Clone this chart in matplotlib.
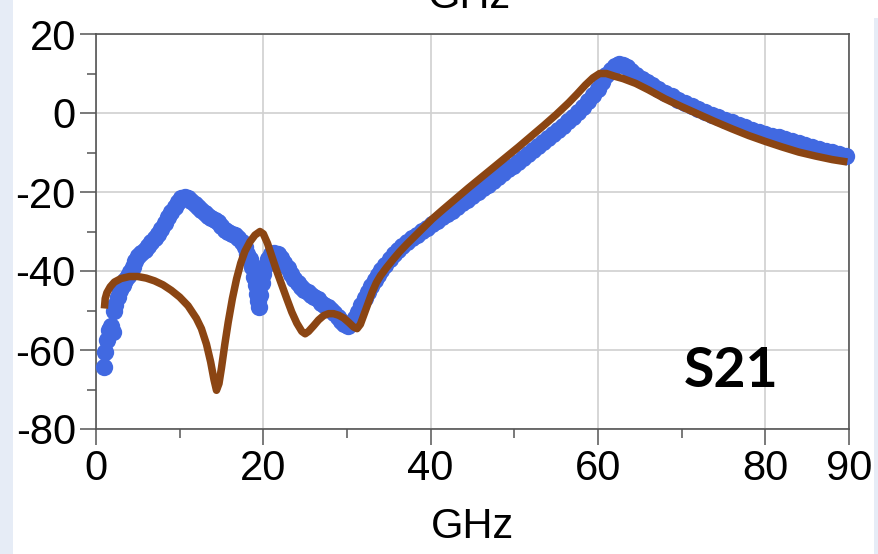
import matplotlib
matplotlib.use("Agg")
import matplotlib.pyplot as plt
from matplotlib.patches import Rectangle

plt.rcParams['font.family'] = ['Liberation Sans', 'DejaVu Sans']
plt.rcParams['axes.unicode_minus'] = False

# measured S21 (blue dots)
meas_ghz = [0.9, 1.1, 1.3, 1.6, 1.8, 2.05, 2.1, 2.3, 2.6, 2.9, 3.2, 3.5, 3.8, 4.1, 4.4, 4.7,
            5.0, 5.4, 5.8, 6.2, 6.6, 7.0, 7.4, 7.8, 8.2, 8.6, 9.0, 9.4, 9.8, 10.2, 10.6,
            11.0, 11.4, 11.8, 12.2, 12.6, 13.0, 13.4, 13.8, 14.2, 14.6, 15.0, 15.4, 15.8,
            16.2, 16.6, 17.0, 17.4, 17.8, 18.1, 18.4, 18.7, 18.9, 19.1, 19.3, 19.4, 19.45,
            19.6, 19.8, 20.0, 20.2, 20.5, 20.9, 21.3, 21.7, 22.1, 22.5, 22.9, 23.3, 23.7,
            24.1, 24.5, 24.9, 25.3, 25.7, 26.1, 26.5, 26.9, 27.3, 27.7, 28.1, 28.5, 28.9,
            29.3, 29.7, 30.1, 30.5, 30.9, 31.3, 31.7, 32.1, 32.5, 32.9, 33.3, 33.7, 34.1,
            34.6, 35.1, 35.6, 36.1, 36.6, 37.2, 37.8, 38.4, 39.0, 39.6, 40.2, 40.8, 41.4,
            42.0, 42.6, 43.2, 43.8, 44.4, 45.0, 45.6, 46.2, 46.8, 47.4, 48.0, 48.6, 49.2,
            49.8, 50.4, 51.0, 51.6, 52.2, 52.8, 53.4, 54.0, 54.6, 55.2, 55.8, 56.4, 57.0,
            57.6, 58.2, 58.8, 59.4, 60.0, 60.5, 61.0, 61.5, 62.0, 62.5, 63.0, 63.5, 64.0,
            64.6, 65.2, 65.8, 66.5, 67.2, 68.0, 68.8, 69.6, 70.4, 71.2, 72.0, 72.8, 73.6,
            74.4, 75.2, 76.0, 76.8, 77.6, 78.4, 79.2, 80.0, 80.8, 81.6, 82.4, 83.2, 84.0,
            84.8, 85.6, 86.4, 87.2, 88.0, 88.8, 89.7]
meas_db = [-64.3, -60.6, -57.5, -55.0, -54.0, -55.5, -50.0, -48.5, -46.5, -44.8, -43.5, -42.3,
           -41.3, -40.3, -39.0, -37.5, -36.3, -35.5, -34.6, -33.6, -32.6, -31.7, -30.6, -29.3,
           -27.9, -26.4, -25.0, -23.8, -22.5, -21.6, -21.2, -21.5, -22.2, -23.0, -23.8, -24.5,
           -25.3, -26.0, -26.6, -27.0, -27.6, -28.5, -29.5, -30.2, -30.6, -31.0, -31.6, -32.6,
           -34.0, -35.6, -37.0, -39.0, -41.5, -43.5, -45.8, -47.5, -49.2, -46.0, -43.0, -40.8,
           -38.8, -37.0, -35.8, -35.4, -35.7, -36.6, -37.9, -39.3, -40.7, -42.0, -43.0, -44.0,
           -44.8, -45.4, -46.0, -46.5, -47.2, -48.0, -48.6, -49.2, -49.8, -50.6, -51.6, -52.6,
           -53.4, -53.8, -53.2, -52.0, -50.3, -48.5, -46.8, -45.2, -43.8, -42.3, -41.0, -39.8,
           -38.4, -37.0, -35.7, -34.6, -33.6, -32.6, -31.6, -30.8, -29.9, -29.0, -28.2, -27.3,
           -26.4, -25.6, -24.7, -23.8, -22.9, -21.9, -21.0, -20.1, -19.1, -18.2, -17.2, -16.2,
           -15.3, -14.3, -13.3, -12.3, -11.3, -10.3, -9.3, -8.3, -7.3, -6.3, -5.3, -4.3, -3.2,
           -2.1, -1.0, 0.2, 1.5, 3.0, 4.6, 6.2, 7.8, 9.5, 11.0, 12.0, 12.4, 12.2, 11.6, 10.7,
           9.6, 8.7, 7.9, 7.0, 6.1, 5.1, 4.2, 3.3, 2.5, 1.8, 1.1, 0.3, -0.4, -1.1, -1.8, -2.4,
           -3.0, -3.6, -4.2, -4.7, -5.2, -5.7, -6.2, -6.7, -7.2, -7.7, -8.1, -8.6, -9.0, -9.5,
           -9.9, -10.4, -10.8]

# simulated S21 (brown line)
sim_ghz = [1.0, 1.1, 1.3, 1.7, 2.2, 3.0, 4.0, 5.0, 6.0, 7.0, 8.0, 9.0, 10.0, 11.0, 12.0,
           12.6, 13.2, 13.7, 14.1, 14.4, 14.7, 15.0, 15.4, 15.8, 16.3, 16.8, 17.3, 17.8,
           18.4, 19.0, 19.6, 20.0, 20.5, 21.0, 21.6, 22.2, 22.8, 23.4, 24.0, 24.6, 25.0,
           25.4, 26.0, 26.6, 27.2, 27.8, 28.4, 29.0, 29.6, 30.2, 30.8, 31.2, 31.6, 32.0,
           32.5, 33.0, 33.5, 34.0, 34.7, 35.5, 36.3, 37.2, 38.2, 39.2, 40.2, 41.5, 43.0,
           44.5, 46.0, 47.5, 49.0, 50.5, 52.0, 53.5, 55.0, 56.5, 57.5, 58.5, 59.4, 60.2,
           61.0, 62.0, 63.0, 64.5, 66.0, 68.0, 70.0, 72.0, 74.0, 76.0, 78.0, 80.0, 82.0,
           84.0, 86.0, 88.0, 89.8]
sim_db = [-49.5, -47.0, -45.5, -44.0, -42.8, -41.9, -41.4, -41.4, -41.8, -42.5, -43.5, -44.9,
          -46.6, -48.8, -52.0, -54.6, -58.5, -63.0, -67.5, -70.2, -68.5, -64.5, -58.5, -53.0,
          -47.0, -42.0, -38.0, -35.0, -32.6, -30.9, -30.0, -30.6, -33.0, -36.2, -40.0, -43.5,
          -47.0, -50.4, -53.2, -55.3, -55.9, -55.3, -53.9, -52.4, -51.3, -50.8, -50.8, -51.2,
          -51.9, -53.0, -54.2, -54.6, -53.5, -51.2, -48.3, -45.4, -43.0, -41.2, -39.2, -37.1,
          -35.1, -33.1, -31.0, -28.9, -26.8, -24.4, -21.7, -19.0, -16.4, -13.8, -11.2, -8.6,
          -5.9, -3.2, -0.4, 2.6, 4.8, 7.1, 8.9, 10.0, 10.0, 9.3, 8.7, 7.5, 5.9, 3.6, 1.6,
          -0.3, -2.2, -4.0, -5.7, -7.2, -8.6, -9.9, -10.9, -11.8, -12.4]

x_major = [0, 20, 40, 60, 80, 90]
x_minor = [10, 30, 50, 70]
y_major = [-80, -60, -40, -20, 0, 20]
y_minor = [-70, -50, -30, -10, 10]

fig = plt.figure(figsize=(8.79, 5.54), dpi=100, facecolor='white')

# pale side strips of the slide background
strip = '#e6ecf6'
fig.patches.append(Rectangle((0, 0), 13 / 879, 1, transform=fig.transFigure,
                             facecolor=strip, edgecolor='none', zorder=0))
fig.patches.append(Rectangle((874 / 879, 0), 5 / 879, 1 - 18 / 554, transform=fig.transFigure,
                             facecolor=strip, edgecolor='none', zorder=0))

ax = fig.add_axes([96 / 879, 125 / 554, 753 / 879, 395 / 554])
ax.set_xlim(0, 90)
ax.set_ylim(-80, 20)

ax.plot(meas_ghz, meas_db, 'o', color='#4169e1', markersize=12.5, markeredgewidth=0,
        clip_on=False, zorder=3)
ax.plot(sim_ghz, sim_db, '-', color='#8b4513', linewidth=5.4, solid_capstyle='butt',
        solid_joinstyle='round', zorder=4)

ax.set_xticks(x_major)
ax.set_xticks(x_minor, minor=True)
ax.set_yticks(y_major)
ax.set_yticks(y_minor, minor=True)
ax.grid(True, which='major', color='#d0d0d0', linewidth=1.2)
ax.set_axisbelow(True)

for s in ax.spines.values():
    s.set_color('#555555')
    s.set_linewidth(1.2)

ax.tick_params(which='major', direction='out', length=11.5, width=1.1, color='#555555',
               labelsize=30, pad=3)
ax.tick_params(which='minor', direction='out', length=6.5, width=1.1, color='#555555')

ax.set_xlabel('GHz', fontsize=30)
ax.xaxis.set_label_coords(0.5, (429 - 538) / 395)
ax.xaxis.label.set_va('baseline')

ax.text(75.9, -69.4, 'S21', fontsize=40, fontweight='bold', family=['Lato', 'DejaVu Sans'],
        ha='center', va='baseline', zorder=5)

# axis title of the panel above, cut by the frame
fig.text(470 / 879, 1 - 8 / 554, 'GHz', fontsize=30, ha='center', va='baseline')

fig.savefig('out.png', dpi=100, facecolor=fig.get_facecolor())
